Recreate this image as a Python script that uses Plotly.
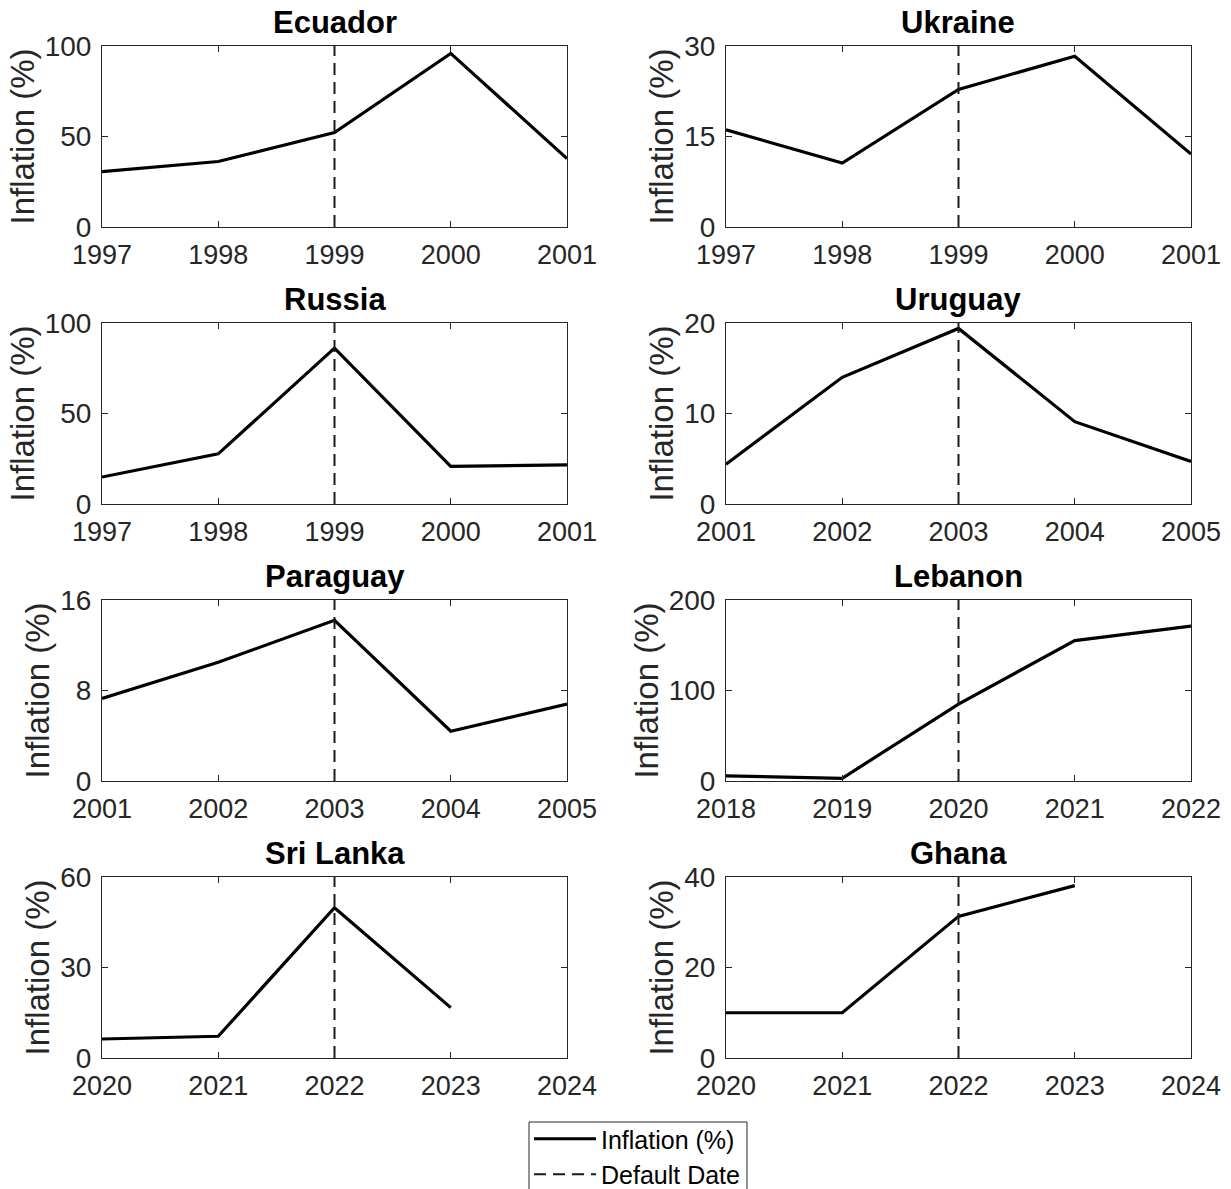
import plotly.graph_objects as go

# ---------------- data ----------------
countries = ["Ecuador", "Ukraine", "Russia", "Uruguay", "Paraguay", "Lebanon", "Sri Lanka", "Ghana"]

years_ecuador = [1997, 1998, 1999, 2000, 2001]
infl_ecuador = [30.6, 36.2, 52.2, 95.9, 37.8]

years_ukraine = [1997, 1998, 1999, 2000, 2001]
infl_ukraine = [16.1, 10.6, 22.8, 28.3, 12.1]

years_russia = [1997, 1998, 1999, 2000, 2001]
infl_russia = [14.9, 27.7, 86.1, 20.8, 21.6]

years_uruguay = [2001, 2002, 2003, 2004, 2005]
infl_uruguay = [4.4, 14.0, 19.4, 9.1, 4.7]

years_paraguay = [2001, 2002, 2003, 2004, 2005]
infl_paraguay = [7.3, 10.5, 14.2, 4.4, 6.8]

years_lebanon = [2018, 2019, 2020, 2021, 2022]
infl_lebanon = [5.6, 3.0, 85.0, 155.1, 171.1]

years_srilanka = [2020, 2021, 2022, 2023]
infl_srilanka = [6.3, 7.2, 49.8, 16.7]

years_ghana = [2020, 2021, 2022, 2023]
infl_ghana = [10.0, 10.0, 31.3, 38.1]

default_years = [1999, 1999, 1999, 2003, 2003, 2020, 2022, 2022]
x_ranges = [[1997, 2001], [1997, 2001], [1997, 2001], [2001, 2005],
            [2001, 2005], [2018, 2022], [2020, 2024], [2020, 2024]]
y_max = [100, 30, 100, 20, 16, 200, 60, 40]

series_years = [years_ecuador, years_ukraine, years_russia, years_uruguay,
                years_paraguay, years_lebanon, years_srilanka, years_ghana]
series_infl = [infl_ecuador, infl_ukraine, infl_russia, infl_uruguay,
               infl_paraguay, infl_lebanon, infl_srilanka, infl_ghana]

# ---------------- layout geometry ----------------
W, H = 1231, 1189
col_px = [(102, 567), (726, 1191)]
row_px = [(46, 227), (323, 504), (600, 781), (877, 1058)]

FONT = "Liberation Sans, Arial, Helvetica, sans-serif"
AX = "#262626"

fig = go.Figure()

for i, name in enumerate(countries):
    r, c = divmod(i, 2)
    idx = "" if i == 0 else str(i + 1)
    xa, ya = "x" + idx, "y" + idx
    x0, x1 = col_px[c]
    t, b = row_px[r]
    xdom = [x0 / W, x1 / W]
    ydom = [1 - b / H, 1 - t / H]

    fig.add_trace(go.Scatter(
        x=series_years[i], y=series_infl[i], mode="lines",
        line=dict(color="black", width=3.2),
        name="Inflation (%)", legendgroup="infl", showlegend=(i == 0),
        xaxis=xa, yaxis=ya))
    fig.add_trace(go.Scatter(
        x=[default_years[i], default_years[i]], y=[0, y_max[i]], mode="lines",
        line=dict(color="#1a1a1a", width=2, dash="12px,7px"),
        name="Default Date", legendgroup="def", showlegend=(i == 0),
        xaxis=xa, yaxis=ya))

    xr = x_ranges[i]
    common = dict(showline=True, mirror="ticks", linecolor=AX, linewidth=1,
                  ticks="inside", ticklen=6, tickcolor=AX, tickwidth=1,
                  showgrid=False, zeroline=False, automargin=False)
    fig.layout["xaxis" + idx] = dict(
        domain=xdom, anchor=ya, range=xr,
        tickvals=list(range(xr[0], xr[1] + 1)),
        tickfont=dict(family=FONT, size=27, color=AX),
        ticklabelstandoff=4, **common)
    fig.layout["yaxis" + idx] = dict(
        domain=ydom, anchor=xa, range=[0, y_max[i]],
        tickvals=[0, y_max[i] / 2, y_max[i]],
        tickfont=dict(family=FONT, size=28, color=AX),
        ticklabelstandoff=4,
        title=dict(text="Inflation (%)", standoff=0,
                   font=dict(family=FONT, size=33, color=AX)),
        **common)

    fig.add_annotation(
        text="<b>" + name + "</b>", xref="paper", yref="paper",
        x=(xdom[0] + xdom[1]) / 2, y=ydom[1], yanchor="bottom", xanchor="center",
        showarrow=False, yshift=4,
        font=dict(family=FONT, size=31, color="black"))

# legend frame (decoration)
fig.add_shape(type="rect", xref="paper", yref="paper",
              x0=529 / W, x1=747 / W, y0=-0.02, y1=1 - 1122 / H,
              line=dict(color=AX, width=1), fillcolor="white", layer="above")

fig.update_layout(
    width=W, height=H,
    margin=dict(l=0, r=0, t=0, b=0, autoexpand=False),
    paper_bgcolor="white", plot_bgcolor="white",
    showlegend=True,
    legend=dict(x=529 / W, y=1 - 1116 / H, xanchor="left", yanchor="top",
                borderwidth=0, bgcolor="rgba(0,0,0,0)",
                font=dict(family=FONT, size=25, color="black"),
                tracegroupgap=0, itemwidth=62),
)

fig.write_html("out.html")
